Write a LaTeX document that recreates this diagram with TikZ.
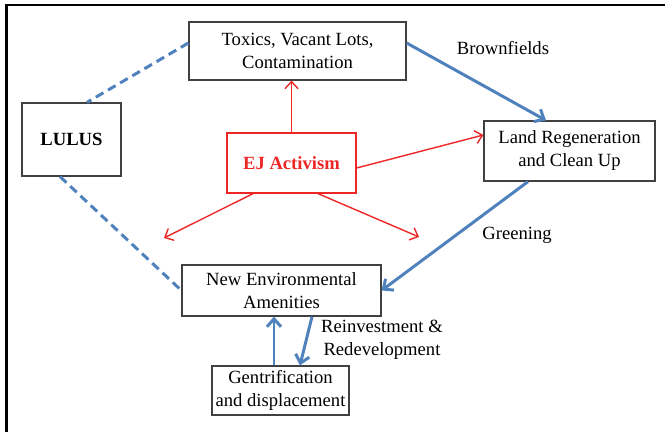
\documentclass[tikz,border=0pt]{standalone}
\usepackage{fontspec}
\setmainfont{Liberation Serif}
\usetikzlibrary{arrows.meta}
\definecolor{linkblue}{RGB}{79,129,189}
\definecolor{ejred}{RGB}{237,38,38}

\begin{document}
\begin{tikzpicture}[
    font=\fontsize{10.6}{13.1}\selectfont,
    box/.style={draw=black!75, line width=0.7pt, align=center, inner sep=0pt},
    ejbox/.style={box, draw=ejred, text=ejred, font=\fontsize{10.6}{13.1}\selectfont\bfseries},
    dashlink/.style={linkblue, line width=1.7pt, dash pattern=on 5pt off 3pt},
    bluearrow/.style={linkblue, line width=1.7pt, -{Straight Barb[length=4.5pt,width=8pt]}},
    redarrow/.style={ejred, line width=0.8pt, -{Straight Barb[length=4pt,width=7.5pt]}}]
    \useasboundingbox (0,0) rectangle (13.3,-8.64);
    \draw[line width=1.7pt] (0.13,-8.64) -- (0.13,-0.1) -- (13.3,-0.1);
    \node[box, minimum width=4.34cm, minimum height=1.16cm] (toxics) at (5.95,-1.02) {Toxics, Vacant Lots,\\Contamination};
    \node[box, minimum width=1.98cm, minimum height=1.46cm, font=\fontsize{10.6}{13.1}\selectfont\bfseries] (lulus) at (1.43,-2.79) {LULUS};
    \node[ejbox, minimum width=2.58cm, minimum height=1.2cm] (ej) at (5.83,-3.26) {EJ Activism};
    \node[box, minimum width=3.42cm, minimum height=1.2cm] (land) at (11.39,-3.02) {Land Regeneration\\and Clean Up};
    \node[box, minimum width=3.98cm, minimum height=1.02cm] (amen) at (5.63,-5.81) {New Environmental\\Amenities};
    \node[box, minimum width=2.74cm, minimum height=0.98cm] (gent) at (5.61,-7.81) {Gentrification\\and displacement};
    \node (brown) at (10.06,-0.96) {Brownfields};
    \node (green) at (10.34,-4.7) {Greening};
    \node[align=center] (reinv) at (7.64,-6.8) {Reinvestment \&\\Redevelopment};
    \coordinate (ejleft) at (3.28,-4.76);
    \coordinate (ejright) at (8.38,-4.74);
    \draw[dashlink] ([yshift=0.16cm]toxics.west) -- ([xshift=0.31cm]lulus.north);
    \draw[dashlink] ([xshift=-0.23cm]lulus.south) -- (amen.west);
    \draw[bluearrow] ([yshift=0.16cm]toxics.east) -- ([xshift=-0.47cm]land.north);
    \draw[bluearrow] ([xshift=-0.83cm]land.south) -- (amen.east);
    \draw[bluearrow] ([xshift=-0.13cm]gent.north) -- ([xshift=-0.13cm]gent.north |- amen.south);
    \draw[bluearrow] ([xshift=0.61cm]amen.south) -- ([xshift=0.39cm]gent.north);
    \draw[redarrow] (ej.north) -- (ej.north |- toxics.south);
    \draw[redarrow] ([yshift=-0.1cm]ej.east) -- ([yshift=0.32cm]land.west);
    \draw[redarrow] ([xshift=-0.77cm]ej.south) -- (ejleft);
    \draw[redarrow] ([xshift=0.53cm]ej.south) -- (ejright);
\end{tikzpicture}
\end{document}
